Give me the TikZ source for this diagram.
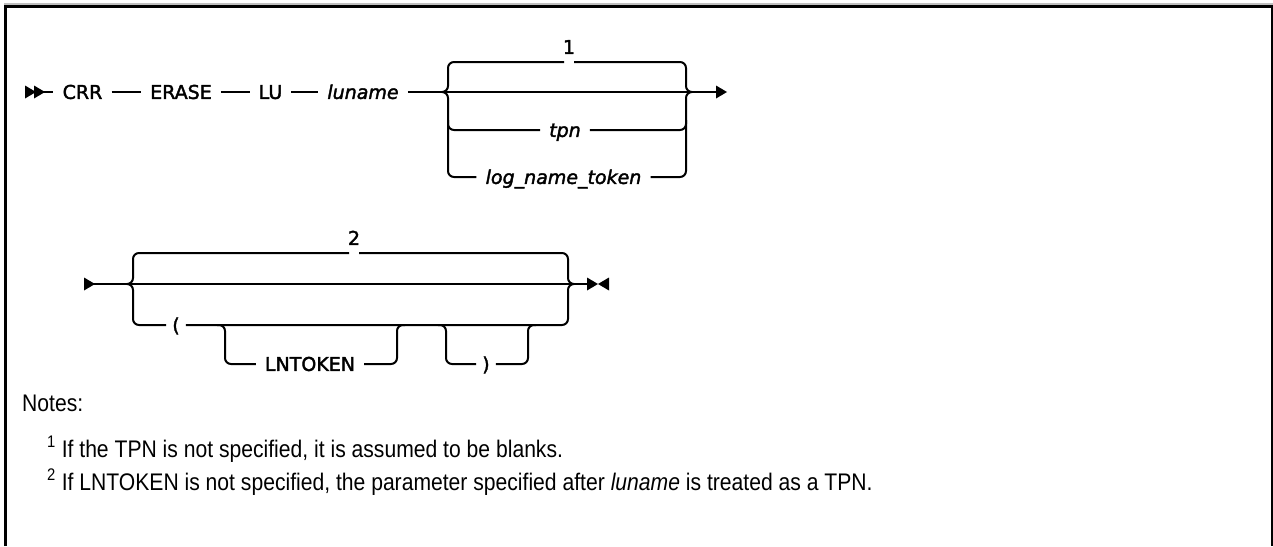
\documentclass[tikz,border=0pt]{standalone}
\usepackage{fontspec}
\newfontfamily\diagfont[ItalicFont={DejaVu Sans Oblique}, FakeBold=2]{DejaVu Sans}
\newfontfamily\notefont[FakeStretch=0.88]{Liberation Sans}
\begin{document}
\begin{tikzpicture}[x=1pt, y=-1pt,
		tok/.style={inner xsep=9pt, inner ysep=0pt, text height=13.8pt, text depth=0pt,
			font=\diagfont\fontsize{19}{22}\selectfont},
		var/.style={tok, font=\diagfont\fontsize{19}{22}\selectfont\itshape},
		paren/.style={tok, inner xsep=6pt},
		fnmark/.style={tok, inner xsep=0pt},
		note/.style={anchor=base west, inner sep=0pt,
			font=\notefont\fontsize{24}{28}\selectfont},
		rail/.style={line width=2pt, rounded corners=6pt},
		frame/.style={line width=2.6pt},
		rtip/.pic={\fill (0,-6.5) -- (11,0) -- (0,6.5) -- cycle;},
		ltip/.pic={\fill (11,-6.5) -- (0,0) -- (11,6.5) -- cycle;}
		]
		\useasboundingbox (0,0) rectangle (1273,546);
		
		\draw[frame, draw=black!25, line width=1.5pt] (4,4) -- (1273,4);
		\draw[frame] (5.5,546) -- (5.5,6.5) -- (1271.8,6.5) -- (1271.8,546);
		
		% first line
		\node[tok] (crr) at (82.5,92) {CRR};
		\node[tok] (erase) at (181,92) {ERASE};
		\node[tok] (lu) at (270.5,92) {LU};
		\node[var] (luname) at (363,92) {luname};
		\node[var] (tpn) at (565,130) {tpn};
		\node[var] (logtok) at (563.5,177) {log\_name\_token};
		\node[fnmark] (fn1) at (569,47) {1};
		
		\coordinate (begin1) at (25,92);
		\coordinate (end1) at (716,92);
		\coordinate (in1) at (442,92);
		\coordinate (out1) at (692,92);
		
		\draw[rail] (begin1) -- (crr);
		\draw[rail] (crr) -- (erase);
		\draw[rail] (erase) -- (lu);
		\draw[rail] (lu) -- (luname);
		\draw[rail] (luname) -- (end1);
		\pic at (begin1) {rtip};
		\pic at ([xshift=9pt]begin1) {rtip};
		\pic at (end1) {rtip};
		
		\draw[rail] (in1) -| (448,62) -- (564,62);
		\draw[rail] (574,62) -| (686,92) -- (out1);
		\draw[rail] (in1) -| (448,177) -- (logtok);
		\draw[rail] (logtok) -| (686,92) -- (out1);
		\draw[rail] (448,120) |- (tpn);
		\draw[rail] (tpn) -| (686,120);
		
		% second line
		\node[paren] (lparen) at (176,325) {(};
		\node[tok] (lntoken) at (310,364) {LNTOKEN};
		\node[paren] (rparen) at (486,364) {)};
		\node[fnmark] (fn2) at (354,238) {2};
		
		\coordinate (begin2) at (84,284);
		\coordinate (end2) at (587,284);
		\coordinate (in2) at (127,284);
		\coordinate (out2) at (574,284);
		
		\draw[rail] (begin2) -- (end2);
		\pic at (begin2) {rtip};
		\pic at (end2) {rtip};
		\pic at ([xshift=11pt]end2) {ltip};
		
		\draw[rail] (in2) -| (133,253) -- (349,253);
		\draw[rail] (359,253) -| (568,284) -- (out2);
		\draw[rail] (in2) -| (133,325) -- (lparen);
		\draw[rail] (lparen) -| (568,284) -- (out2);
		\draw[rail] (217,325) -| (225,364) -- (lntoken);
		\draw[rail] (lntoken) -| (397,325) -- (405,325);
		\draw[rail] (438,325) -| (446,364) -- (rparen);
		\draw[rail] (rparen) -| (528,325) -- (536,325);
		
		% notes
		\node[note] (notes) at (22,411) {Notes:};
		\node[note] (note1) at (47,457)
		{\textsuperscript{1} If the TPN is not specified, it is assumed to be blanks.};
		\node[note] (note2) at (47,490)
		{\textsuperscript{2} If LNTOKEN is not specified, the parameter specified
			after \textit{luname} is treated as a TPN.};
	\end{tikzpicture}
\end{document}
